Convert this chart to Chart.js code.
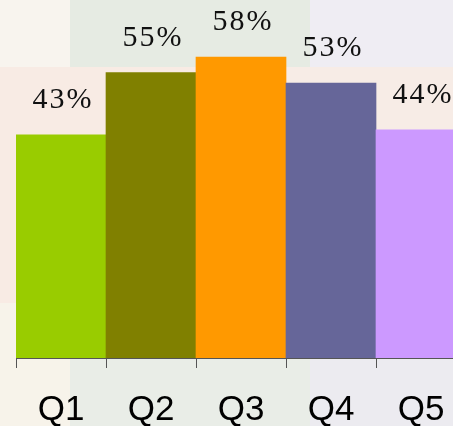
<!DOCTYPE html>
<html>
<head>
<meta charset="utf-8">
<script src="https://cdn.jsdelivr.net/npm/chart.js@4.4.0/dist/chart.umd.min.js"></script>
<style>
  html, body { margin: 0; padding: 0; }
  body {
    width: 453px; height: 426px; overflow: hidden;
    background:
      linear-gradient(to right, #f8f4ee 0 70px, #e6ebe3 70px 310px, #efedf3 310px) top / 100% 67px no-repeat,
      linear-gradient(to right, #f8ebe4 0 200px, #f7ece6 200px) 0 67px / 100% 236px no-repeat,
      linear-gradient(to right, #f7f3ea 0 70px, #e9ede7 70px 310px, #ecebf0 310px) 0 303px / 100% 123px no-repeat;
  }
  #wrap { position: relative; width: 466px; height: 426px; }
</style>
</head>
<body>
<div id="wrap"><canvas id="chart" width="466" height="426"></canvas></div>
<script>
const labels = ["Q1", "Q2", "Q3", "Q4", "Q5"];
const values = [43, 55, 58, 53, 44];
const colors = ["#99cc00", "#808000", "#ff9900", "#666699", "#cc99ff"];

// value labels above each bar
const barLabels = {
  id: "barLabels",
  afterDatasetsDraw(chart) {
    const ctx = chart.ctx;
    const meta = chart.getDatasetMeta(0);
    ctx.save();
    ctx.font = "30px 'Liberation Serif'";
    ctx.letterSpacing = "2px";
    ctx.fillStyle = "#111";
    ctx.textAlign = "center";
    ctx.textBaseline = "alphabetic";
    meta.data.forEach((bar, i) => {
      ctx.fillText(values[i] + "%", bar.x + 2, bar.y - 27);
    });
    ctx.restore();
  }
};

new Chart(document.getElementById("chart"), {
  type: "bar",
  data: {
    labels: labels,
    datasets: [{
      data: values,
      backgroundColor: colors,
      borderWidth: 0,
      categoryPercentage: 1,
      barPercentage: 1
    }]
  },
  options: {
    responsive: false,
    animation: false,
    layout: { padding: { left: 16, top: 0, right: 0, bottom: 0 } },
    plugins: { legend: { display: false }, tooltip: { enabled: false } },
    scales: {
      x: {
        offset: true,
        grid: {
          display: true, drawOnChartArea: false, drawTicks: true,
          tickLength: 10, offset: true, color: "#555", lineWidth: 1
        },
        border: { display: true, color: "#555", width: 1 },
        ticks: {
          color: "#000",
          font: { family: "'Liberation Sans', Arial", size: 35 },
          padding: 21
        },
        afterFit(scale) { scale.height = 68; }
      },
      y: { display: false, min: 0, max: 69 }
    }
  },
  plugins: [barLabels]
});
</script>
</body>
</html>
